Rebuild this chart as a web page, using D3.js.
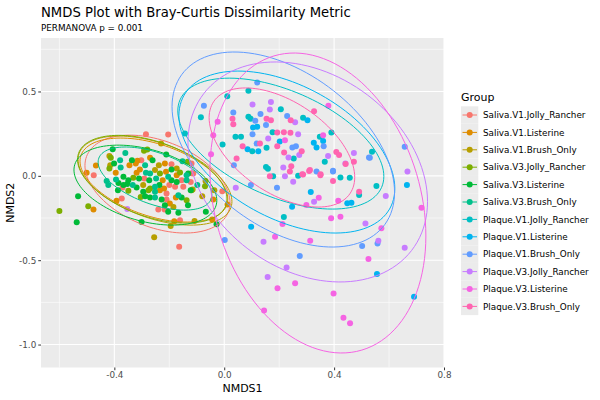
<!DOCTYPE html>
<html><head><meta charset="utf-8">
<script src="https://cdn.jsdelivr.net/npm/d3@7"></script>
<style>body{margin:0;background:#fff}svg{display:block}text{font-family:"DejaVu Sans",sans-serif}</style>
</head><body><svg id="c" width="600" height="400"></svg>
<script>
const groupNames = ["Saliva.V1.Jolly_Rancher","Saliva.V1.Listerine","Saliva.V1.Brush_Only","Saliva.V3.Jolly_Rancher","Saliva.V3.Listerine","Saliva.V3.Brush_Only","Plaque.V1.Jolly_Rancher","Plaque.V1.Listerine","Plaque.V1.Brush_Only","Plaque.V3.Jolly_Rancher","Plaque.V3.Listerine","Plaque.V3.Brush_Only"];
const groupColors = ["#F8766D","#DE8C00","#B79F00","#7CAE00","#00BA38","#00C08B","#00BFC4","#00B4F0","#619CFF","#C77CFF","#F564E3","#FF64B0"];
const xTicks = [-0.4, 0.0, 0.4, 0.8];
const yTicks = [-1.0, -0.5, 0.0, 0.5];

// NMDS scores per group [NMDS1, NMDS2]
const salivaV1JR = [[-0.285,0.247],[-0.204,0.245],[-0.302,0.093],[-0.192,0.069],[-0.119,0.073],[-0.475,0.004],[-0.113,0.014],[-0.291,-0.016],[-0.155,-0.026],[-0.122,-0.036],[-0.370,-0.069],[-0.200,-0.055],[-0.179,-0.065],[-0.149,-0.065],[-0.210,-0.105],[-0.210,-0.140],[-0.373,-0.134],[-0.240,-0.200],[-0.217,-0.200],[-0.161,-0.263],[-0.164,-0.421],[-0.007,-0.091],[-0.119,0.015]];
const salivaV1L = [[-0.316,0.089],[-0.467,0.061],[-0.345,0.063],[-0.322,0.073],[-0.216,0.073],[-0.501,0.018],[-0.395,0.018],[-0.319,0.018],[-0.307,0.038],[-0.212,0.024],[-0.173,0.004],[-0.224,-0.026],[-0.219,-0.075],[-0.234,-0.085],[-0.176,-0.128],[-0.198,-0.164],[-0.392,-0.148],[-0.040,-0.140],[-0.044,-0.259],[-0.182,-0.269],[-0.476,-0.200],[0.012,-0.170],[-0.270,0.107]];
const salivaV1BO = [[-0.230,0.192],[-0.418,0.117],[-0.415,0.063],[-0.238,0.063],[-0.173,0.043],[-0.252,0.034],[-0.295,-0.055],[-0.115,-0.081],[-0.080,-0.121],[-0.036,-0.085],[-0.108,-0.267],[-0.195,-0.298],[-0.255,-0.364],[-0.185,-0.184],[-0.068,-0.030]];
const salivaV3JR = [[-0.413,0.107],[-0.292,0.148],[-0.280,0.156],[-0.133,0.083],[-0.418,0.043],[-0.234,0.014],[-0.161,0.020],[-0.331,-0.012],[-0.270,-0.075],[-0.349,-0.089],[-0.276,-0.085],[-0.304,-0.125],[-0.137,-0.144],[-0.070,-0.061],[-0.600,-0.209],[-0.495,-0.180],[-0.119,-0.085]];
const salivaV3L = [[-0.406,0.158],[-0.211,0.126],[-0.336,0.093],[-0.401,0.073],[-0.261,0.093],[-0.192,0.038],[-0.131,0.014],[-0.367,-0.006],[-0.349,-0.026],[-0.310,-0.016],[-0.273,-0.026],[-0.192,-0.026],[-0.173,-0.036],[-0.385,-0.042],[-0.367,-0.055],[-0.353,-0.049],[-0.319,-0.069],[-0.236,-0.055],[-0.122,-0.085],[-0.387,-0.085],[-0.295,-0.095],[-0.155,-0.128],[-0.132,-0.174],[-0.288,-0.121],[-0.270,-0.128],[-0.228,-0.140],[-0.216,-0.174],[-0.204,-0.213],[-0.167,-0.219],[-0.067,-0.213],[-0.028,-0.287],[-0.301,-0.273],[-0.532,-0.121],[-0.537,-0.275]];
const salivaV3BO = [[-0.360,0.136],[-0.379,0.093],[-0.377,0.049],[-0.288,0.063],[-0.152,0.087],[-0.285,0.018],[-0.270,0.014],[-0.394,-0.022],[-0.248,-0.016],[-0.204,-0.006],[-0.137,-0.026],[-0.428,-0.030],[-0.422,-0.055],[-0.333,-0.055],[-0.252,-0.065],[-0.252,-0.095],[-0.252,-0.128],[-0.098,-0.055],[-0.137,0.004],[-0.167,-0.115]];
const plaqueV1JR = [[0.088,0.504],[0.011,0.472],[0.206,0.395],[-0.085,0.348],[0.088,0.350],[0.096,0.338],[0.287,0.344],[-0.143,0.251],[0.041,0.231],[0.061,0.231],[0.176,0.259],[0.102,0.146],[0.154,0.166],[0.253,0.103],[0.348,0.231],[0.390,0.257],[0.366,0.083],[-0.006,0.186],[0.152,0.053],[0.159,0.042],[0.178,-0.002],[0.269,0.000],[0.423,-0.010],[0.457,-0.011],[0.491,-0.114],[0.554,-0.060],[0.217,-0.244],[0.538,0.143]];
const plaqueV1L = [[0.120,0.291],[0.105,0.287],[0.303,0.330],[0.202,0.204],[0.124,0.146],[0.085,0.158],[0.326,0.196],[0.336,0.168],[0.360,0.207],[0.448,-0.163],[0.463,-0.159],[0.665,-0.055],[0.247,-0.183],[0.098,-0.302],[0.556,-0.582],[0.691,-0.717],[0.315,-0.096]];
const plaqueV1BO = [[0.120,0.553],[-0.074,0.415],[0.033,0.375],[0.132,0.366],[0.113,0.326],[0.152,0.302],[0.229,0.354],[0.103,0.247],[0.118,0.192],[0.248,0.168],[0.261,0.176],[0.362,0.176],[0.527,0.109],[0.035,0.063],[0.396,0.030],[0.097,-0.055],[0.192,-0.071],[0.336,0.025],[0.396,0.025],[0.530,0.107],[0.657,0.173],[0.002,-0.381],[0.275,-0.475],[0.502,-0.416],[0.558,-0.401]];
const plaqueV3JR = [[0.103,0.423],[0.170,0.437],[0.166,0.393],[0.258,0.318],[0.160,0.221],[0.269,0.247],[0.234,0.109],[0.273,0.123],[0.378,0.117],[0.472,0.136],[0.441,0.073],[0.215,0.049],[0.221,-0.002],[0.042,-0.070],[0.251,-0.035],[0.327,-0.153],[0.667,0.025],[0.588,-0.120],[0.514,-0.282],[0.143,-0.390],[0.561,-0.385],[0.657,-0.426],[0.227,-0.543],[0.158,-0.600],[-0.353,-0.196]];
const plaqueV3L = [[0.379,0.415],[-0.024,0.320],[-0.040,0.241],[0.360,0.241],[-0.048,0.128],[0.299,-0.173],[0.313,-0.385],[0.525,-0.493],[0.194,-0.667],[0.258,-0.637],[0.398,-0.697],[0.145,-0.798],[0.434,-0.841],[0.458,-0.873],[0.221,0.211],[0.212,-0.286],[0.185,-0.361],[0.389,-0.252],[0.423,-0.242],[0.572,-0.311],[0.718,-0.189],[0.415,-0.148],[0.344,-0.130]];
const plaqueV3BO = [[0.327,0.383],[0.030,0.338],[0.033,0.306],[0.154,0.338],[0.170,0.330],[0.242,0.330],[0.193,0.257],[0.217,0.259],[0.241,0.255],[0.067,0.176],[0.130,0.192],[0.193,0.176],[0.218,0.138],[0.282,0.146],[0.408,0.142],[0.418,0.123],[0.045,0.103],[0.244,0.057],[0.166,-0.002],[0.287,0.008],[0.312,0.034],[0.350,0.004],[0.472,0.083],[0.442,0.070],[0.239,0.025],[0.284,0.009],[0.309,0.028],[0.351,0.009],[0.396,-0.031],[0.491,-0.094]];

// 95% ellipse summaries per group: centre, half-width, half-height, correlation
const ellCx = [-0.243,-0.256,-0.252,-0.262,-0.287,-0.252,0.206,0.228,0.215,0.304,0.341,0.210];
const ellCy = [-0.049,-0.025,-0.028,-0.020,-0.055,-0.016,0.191,0.141,0.156,0.023,-0.161,0.168];
const ellW  = [0.264,0.269,0.280,0.272,0.260,0.207,0.375,0.393,0.405,0.436,0.393,0.265];
const ellH  = [0.290,0.249,0.264,0.260,0.237,0.187,0.388,0.480,0.578,0.652,0.889,0.353];
const ellR  = [-0.38,-0.45,-0.47,-0.45,-0.38,-0.52,-0.50,-0.45,-0.44,-0.27,-0.22,-0.50];

const groupPoints = [salivaV1JR,salivaV1L,salivaV1BO,salivaV3JR,salivaV3L,salivaV3BO,plaqueV1JR,plaqueV1L,plaqueV1BO,plaqueV3JR,plaqueV3L,plaqueV3BO];

const svg = d3.select("#c");
const M = {l:41, r:444, t:38, b:367.5};
const x = d3.scaleLinear().domain([-0.667, 0.8]).range([M.l, M.r]);
const y = d3.scaleLinear().domain([-1.136, 0.817]).range([M.b, M.t]);
const color = d3.scaleOrdinal().domain(groupNames).range(groupColors);

svg.append("rect").attr("x",M.l).attr("y",M.t).attr("width",M.r-M.l).attr("height",M.b-M.t).attr("fill","#EBEBEB");
svg.append("clipPath").attr("id","clip").append("rect").attr("x",M.l).attr("y",M.t).attr("width",M.r-M.l).attr("height",M.b-M.t);

const xMinor = [-0.6,-0.2,0.2,0.6], yMinor = [-0.75,-0.25,0.25,0.75];
const grid = svg.append("g");
xMinor.forEach(v=>grid.append("line").attr("x1",x(v)).attr("x2",x(v)).attr("y1",M.t).attr("y2",M.b).attr("stroke","#fff").attr("stroke-width",0.55));
yMinor.forEach(v=>grid.append("line").attr("y1",y(v)).attr("y2",y(v)).attr("x1",M.l).attr("x2",M.r).attr("stroke","#fff").attr("stroke-width",0.55));
xTicks.forEach(v=>grid.append("line").attr("x1",x(v)).attr("x2",x(v)).attr("y1",M.t).attr("y2",M.b).attr("stroke","#fff").attr("stroke-width",1.1));
yTicks.forEach(v=>grid.append("line").attr("y1",y(v)).attr("y2",y(v)).attr("x1",M.l).attr("x2",M.r).attr("stroke","#fff").attr("stroke-width",1.1));

const plot = svg.append("g").attr("clip-path","url(#clip)");
groupPoints.forEach((pts,gi)=>{
  plot.selectAll(null).data(pts).enter().append("circle")
    .attr("cx",d=>x(d[0])).attr("cy",d=>y(d[1])).attr("r",3)
    .attr("fill",color(groupNames[gi]));
});
const line = d3.line().x(d=>x(d[0])).y(d=>y(d[1])).curve(d3.curveLinearClosed);
groupNames.forEach((g,i)=>{
  const s = Math.sqrt(1-ellR[i]*ellR[i]);
  const pts = d3.range(120).map(k=>{
    const p = k/120*2*Math.PI;
    return [ellCx[i]+ellW[i]*Math.cos(p), ellCy[i]+ellH[i]*(ellR[i]*Math.cos(p)+s*Math.sin(p))];
  });
  plot.append("path").attr("d",line(pts)).attr("fill","none").attr("stroke",color(g)).attr("stroke-width",1);
});

// axes
const xa = svg.append("g").attr("transform",`translate(0,${M.b})`).call(d3.axisBottom(x).tickValues(xTicks).tickSize(2.75).tickPadding(2).tickFormat(d3.format(".1f")));
const ya = svg.append("g").attr("transform",`translate(${M.l},0)`).call(d3.axisLeft(y).tickValues(yTicks).tickSize(2.75).tickPadding(2).tickFormat(d3.format(".1f")));
[xa,ya].forEach(a=>{a.select(".domain").remove();a.selectAll(".tick line").attr("stroke","#333").attr("stroke-width",1);
  a.selectAll(".tick text").attr("fill","#4D4D4D").style("font-size","8.8px").style("font-family","DejaVu Sans");});
ya.selectAll(".tick text").text(d=>d3.format(".1f")(d).replace("−","-"));
xa.selectAll(".tick text").text(d=>d3.format(".1f")(d).replace("−","-"));

svg.append("text").attr("x",(M.l+M.r)/2).attr("y",392).attr("text-anchor","middle").style("font-size","11px").attr("fill","#000").text("NMDS1");
svg.append("text").attr("transform",`translate(13.5,${(M.t+M.b)/2}) rotate(-90)`).attr("text-anchor","middle").style("font-size","11px").attr("fill","#000").text("NMDS2");
svg.append("text").attr("x",41).attr("y",17).style("font-size","13.2px").attr("fill","#000").text("NMDS Plot with Bray-Curtis Dissimilarity Metric");
svg.append("text").attr("x",41).attr("y",31).style("font-size","8.8px").attr("fill","#000").text("PERMANOVA p = 0.001");

// legend
const lg = svg.append("g");
lg.append("text").attr("x",461).attr("y",100.5).style("font-size","11px").attr("fill","#000").text("Group");
const ky0 = 106.3, kh = 17.4;
groupNames.forEach((g,i)=>{
  const yy = ky0 + i*kh;
  lg.append("rect").attr("x",461).attr("y",yy).attr("width",17.3).attr("height",kh).attr("fill","#EBEBEB");
  lg.append("line").attr("x1",462.5).attr("x2",477).attr("y1",yy+kh/2).attr("y2",yy+kh/2).attr("stroke",color(g)).attr("stroke-width",1);
  lg.append("circle").attr("cx",469.7).attr("cy",yy+kh/2).attr("r",3).attr("fill",color(g));
  lg.append("text").attr("x",483).attr("y",yy+kh/2+3.1).style("font-size","8.8px").attr("fill","#000").text(g);
});
</script></body></html>
